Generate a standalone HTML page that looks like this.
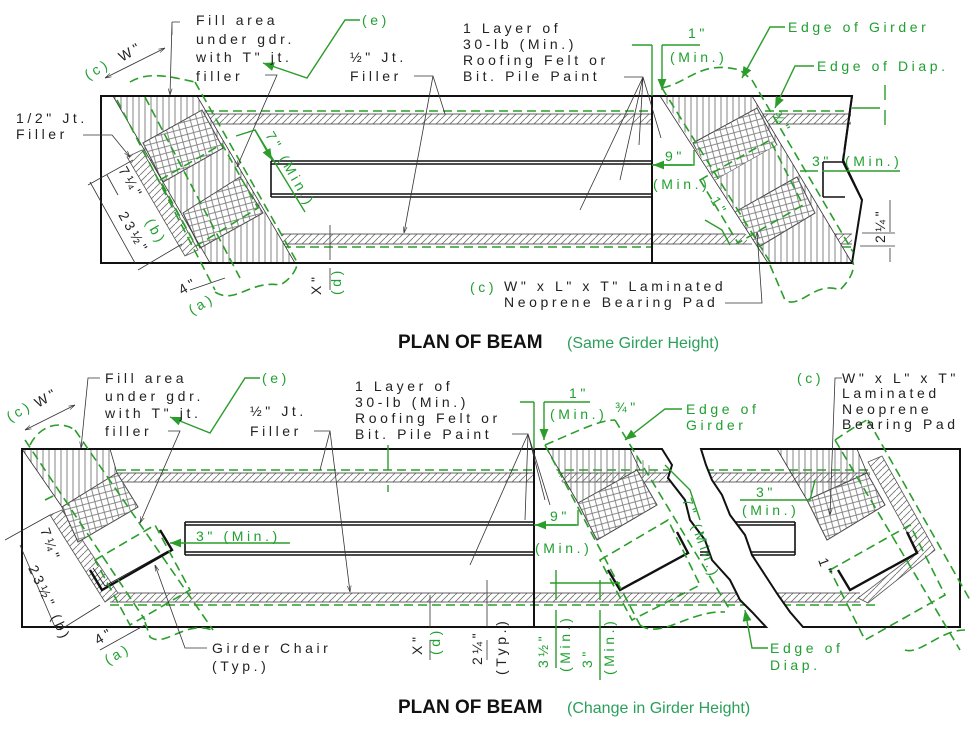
<!DOCTYPE html>
<html><head><meta charset="utf-8"><style>
html,body{margin:0;padding:0;background:#fff;}
svg{display:block}
text{font-family:"Liberation Sans",sans-serif;}
.t{font-size:14px;letter-spacing:3.6px;fill:#222}
.g{font-size:14px;letter-spacing:3.6px;fill:#20a030}
.ol{fill:none;stroke:#111;stroke-width:2}
.th{fill:none;stroke:#333;stroke-width:0.8}
.gd{fill:none;stroke:#2a9d2a;stroke-width:1.6;stroke-dasharray:9,5}
.gl{fill:none;stroke:#2a9d2a;stroke-width:1.4}
</style></head><body>
<svg width="975" height="729" viewBox="0 0 975 729" xmlns="http://www.w3.org/2000/svg">
<defs>
<pattern id="dg" patternUnits="userSpaceOnUse" width="7" height="7"><path d="M0,7 L7,0" stroke="#777" stroke-width="0.9"/></pattern>
<pattern id="vt" patternUnits="userSpaceOnUse" width="6" height="6"><path d="M1,0 V6" stroke="#777" stroke-width="0.9"/></pattern>
<pattern id="cx" patternUnits="userSpaceOnUse" width="9" height="9" patternTransform="rotate(30)"><path d="M0,0 L9,9 M9,0 L0,9" stroke="#777" stroke-width="0.8"/></pattern>
<marker id="a" viewBox="0 0 10 10" refX="10" refY="5" markerWidth="8" markerHeight="8" orient="auto-start-reverse"><path d="M0,2 L10,5 L0,8" fill="none" stroke="#333" stroke-width="1"/></marker>
<marker id="ga" viewBox="0 0 10 10" refX="10" refY="5" markerWidth="8" markerHeight="8" orient="auto-start-reverse"><path d="M0,1 L10,5 L0,9 z" fill="#2a9d2a"/></marker>
</defs>

<!-- ================= TOP DIAGRAM ================= -->
<rect x="205" y="114" width="646" height="10" fill="url(#dg)"/>
<line x1="205" y1="114" x2="851" y2="114" class="th"/><line x1="205" y1="124" x2="851" y2="124" class="th"/>
<rect x="282" y="234" width="570" height="10" fill="url(#dg)"/>
<line x1="282" y1="234" x2="852" y2="234" class="th"/><line x1="282" y1="244" x2="852" y2="244" class="th"/>
<line x1="205" y1="111" x2="851" y2="111" class="gd"/>
<line x1="282" y1="247" x2="852" y2="247" class="gd"/>
<path d="M271,161 H652 M271,164 H652 M271,194 H652 M271,197 H652 M271,161 V197" stroke="#111" stroke-width="1.6" fill="none"/>
<path d="M823,162 H845 M823,197 H845 M823,162 V197" stroke="#111" stroke-width="1.6" fill="none"/>
<polygon points="113,96 197,96 295,263 210,263" fill="#fff"/>
<polygon points="113,96 197,96 295,263 210,263" fill="url(#vt)"/>
<polygon points="127,157 142,150 198,250 185,256" fill="#fff"/>
<polygon points="127,157 142,150 198,250 185,256" fill="url(#dg)" stroke="#555" stroke-width="0.8"/>
<polygon points="202,110 143,143 163,182 223,148" fill="#fff" stroke="#444" stroke-width="1"/>
<polygon points="202,110 143,143 163,182 223,148" fill="url(#cx)"/>
<polygon points="240,177 183,213 200,248 263,213" fill="#fff" stroke="#444" stroke-width="1"/>
<polygon points="240,177 183,213 200,248 263,213" fill="url(#cx)"/>
<path d="M113,96 L210,263 M197,96 L295,263" class="th" stroke-width="1"/>
<polygon points="660,96 752,96 852,263 768,263" fill="#fff"/>
<polygon points="660,96 752,96 852,263 768,263" fill="url(#vt)"/>
<polygon points="693,143 757,108 777,145 712,182" fill="#fff" stroke="#444"/>
<polygon points="693,143 757,108 777,145 712,182" fill="url(#cx)"/>
<polygon points="712,182 777,145 795,177 735,212" fill="#fff"/>
<polygon points="712,182 777,145 795,177 735,212" fill="url(#vt)"/>
<polygon points="735,212 797,177 815,213 757,248" fill="#fff" stroke="#444"/>
<polygon points="735,212 797,177 815,213 757,248" fill="url(#cx)"/>
<polygon points="652,96 662,96 768,263 652,263" fill="#fff"/>
<rect x="652" y="234" width="95" height="10" fill="url(#dg)"/>
<path d="M652,234 H745 M652,244 H752" class="th"/>
<path d="M660,96 L768,263 M752,96 L852,263" class="th" stroke-width="1"/>
<path d="M101,96 H852 L843,160 L862,200 L852,263 H101 Z" class="ol"/>
<rect x="843" y="150" width="30" height="8" fill="#fff"/>
<path d="M852,96 L843,162 L862,200" class="ol"/>
<line x1="652" y1="96" x2="652" y2="263" stroke="#111" stroke-width="2"/>
<path d="M117,100 L215,290 M195,82 L297,262 M145,97 L240,278 M160,180 L222,144 L258,208 L196,246 Z" class="gd"/>
<path d="M130,82 C150,70 175,78 195,82 M215,292 C235,305 250,280 280,285 C290,280 296,270 297,265" class="gd"/>
<path d="M662,88 L770,262 M752,80 L853,252 M700,180 L770,140 L803,205 L738,243 Z" class="gd"/>
<path d="M662,88 C690,82 700,60 740,70 L752,80 M770,265 L785,300 C800,310 815,280 840,290 C850,280 855,270 853,262" class="gd"/>
<path d="M172,22 V35 M172,22 H180 M172,22 L170,95" class="th" marker-end="url(#a)"/>
<path d="M265,75 H277 L237,167" class="th" marker-end="url(#a)"/>
<path d="M414,76 H433 L445,114 M433,76 L404,233" class="th" marker-end="url(#a)"/>
<path d="M624,77 H643 L661,138 M643,77 L639,145 M643,77 L620,180 M643,77 L580,210" class="th"/>
<path d="M83,135 H112 L130,157" class="th" marker-end="url(#a)"/>
<path d="M725,303 H762 L757,232" class="th" marker-end="url(#a)"/>
<path d="M360,20 H345 L307,78 L263,63" class="gl" marker-end="url(#ga)"/>
<path d="M785,27 H770 L742,78" class="gl" marker-end="url(#ga)"/>
<path d="M814,66 H795 L775,108" class="gl" marker-end="url(#ga)"/>
<path d="M632,45 H652 M700,45 H662 M652,45 V96 M662,45 V90" class="gl" marker-end="url(#ga)"/>
<path d="M652,165 H694 V150" class="gl"/>
<path d="M692,165 H653" class="gl" marker-end="url(#ga)"/>
<path d="M900,171 H822 M800,171 H818" class="gl"/>
<path d="M236,136 L255,130 L305,212" class="gl"/>
<path d="M255,130 L272,160" class="gl" marker-end="url(#ga)"/>
<path d="M880,108 H852 M885,85 V100 M885,110 V125" class="gl"/>
<path d="M705,220 L722,230 L730,245" class="gl"/>
<path d="M890,200 V232 M890,248 V262 M862,233 H895 M860,246 H895" class="th"/>
<path d="M330,225 V260 M330,268 V290" class="th"/>
<path d="M88,185 L133,160 M118,195 L107,175 M90,182 L135,263 M138,270 L182,244" class="th"/>
<path d="M105,78 L165,48" class="th" marker-end="url(#a)" marker-start="url(#a)"/>
<path d="M190,290 L225,278" class="th"/>
<text class="t" x="196" y="25">Fill area</text>
<text class="t" x="196" y="44">under gdr.</text>
<text class="t" x="196" y="62">with T" jt.</text>
<text class="t" x="196" y="81">filler</text>
<text class="g" x="362" y="25">(e)</text>
<text class="t" x="350" y="62">½" Jt.</text>
<text class="t" x="350" y="81">Filler</text>
<text class="t" x="463" y="33">1 Layer of</text>
<text class="t" x="463" y="49">30-lb (Min.)</text>
<text class="t" x="463" y="65">Roofing Felt or</text>
<text class="t" x="463" y="81">Bit. Pile Paint</text>
<text class="t" x="16" y="123">1/2" Jt.</text>
<text class="t" x="16" y="139">Filler</text>
<text class="g" x="788" y="32">Edge of Girder</text>
<text class="g" x="817" y="71">Edge of Diap.</text>
<text class="g" x="688" y="38">1"</text>
<text class="g" x="670" y="62">(Min.)</text>
<text class="g" x="665" y="161">9"</text>
<text class="g" x="653" y="189">(Min.)</text>
<text class="g" x="812" y="166">3"</text>
<text class="g" x="845" y="166">(Min.)</text>
<text class="g" x="470" y="292">(c)</text>
<text class="t" x="504" y="291">W" x L" x T" Laminated</text>
<text class="t" x="504" y="307">Neoprene Bearing Pad</text>
<text class="t" x="864" y="228" transform="rotate(-90 882 225)" font-size="12">2¼"</text>
<text class="g" transform="translate(88,80) rotate(-30)">(c)</text>
<text class="t" transform="translate(122,62) rotate(-30)">W"</text>
<text class="g" transform="translate(192,315) rotate(-30)">(a)</text>
<text class="t" transform="translate(182,295) rotate(-30)">4"</text>
<text class="t" transform="translate(321,295) rotate(-90)">X"</text>
<text class="g" transform="translate(341,295) rotate(-90)">(d)</text>
<text class="g" transform="translate(265,135) rotate(60)">7" (Min.)</text>
<text class="t" transform="translate(118,170) rotate(60)">7¼"</text>
<text class="t" transform="translate(118,215) rotate(60)">23½"</text>
<text class="g" transform="translate(145,222) rotate(60)">(b)</text>
<text class="g" transform="translate(772,115) rotate(60)" font-size="11">¾"</text>
<text class="g" transform="translate(710,200) rotate(60)" font-size="12">1"</text>

<text x="398" y="348" font-size="19" font-weight="bold" fill="#111">PLAN OF BEAM</text>
<text x="567" y="348" font-size="16" fill="#2aa05a">(Same Girder Height)</text>

<!-- ================= BOTTOM DIAGRAM ================= -->
<rect x="117" y="473" width="753" height="9" fill="url(#dg)"/>
<line x1="117" y1="473" x2="870" y2="473" class="th"/><line x1="117" y1="482" x2="870" y2="482" class="th"/>
<rect x="110" y="593" width="750" height="9" fill="url(#dg)"/>
<line x1="110" y1="593" x2="860" y2="593" class="th"/><line x1="110" y1="602" x2="860" y2="602" class="th"/>
<line x1="117" y1="470" x2="880" y2="470" class="gd"/>
<line x1="110" y1="605" x2="880" y2="605" class="gd"/>
<path d="M185,522 H534 M185,525 H534 M185,552 H534 M185,555 H534 M185,522 V555" stroke="#111" stroke-width="1.6" fill="none"/>
<path d="M700,522 H795 M700,525 H795 M700,552 H795 M700,555 H795 M795,522 V555" stroke="#111" stroke-width="1.6" fill="none"/>
<path d="M662,449 L672,465 L668,478 L685,500 L690,520 L705,540 L712,560 L730,580 L740,600 L752,612 L766,627 L803,627 L790,612 L778,595 L765,575 L752,555 L745,535 L730,515 L722,495 L712,480 L706,465 L701,449 Z" fill="#fff"/>
<polygon points="22,449 110,449 117,473 62,507" fill="url(#vt)"/>
<polygon points="50,515 62,510 118,593 105,602" fill="#fff"/>
<polygon points="50,515 62,510 118,593 105,602" fill="url(#dg)" stroke="#555" stroke-width="0.8"/>
<polygon points="117,473 62,507 78,542 138,507" fill="#fff" stroke="#444"/>
<polygon points="117,473 62,507 78,542 138,507" fill="url(#cx)"/>
<path d="M22,449 L62,507 M110,449 L117,473" class="th"/>
<path d="M90,570 L102,590 L172,550 L160,530" fill="none" stroke="#111" stroke-width="2.4"/>
<path d="M93,568 L105,586 L168,551" fill="none" stroke="#111" stroke-width="0.8"/>
<polygon points="534,449 547,449 597,560 534,560" fill="#fff"/>
<polygon points="547,449 630,449 657,472 578,503" fill="url(#vt)"/>
<polygon points="578,503 637,470 657,505 597,540" fill="#fff" stroke="#444"/>
<polygon points="578,503 637,470 657,505 597,540" fill="url(#cx)"/>
<path d="M547,449 L578,503 M630,449 L640,470" class="th"/>
<path d="M608,570 L620,590 L688,553 L677,532" fill="none" stroke="#111" stroke-width="2.4"/>
<polygon points="777,449 857,449 867,473 807,500" fill="url(#vt)"/>
<polygon points="807,500 867,473 885,505 827,540" fill="#fff" stroke="#444"/>
<polygon points="807,500 867,473 885,505 827,540" fill="url(#cx)"/>
<polygon points="868,462 882,456 935,550 868,603 858,598 918,552" fill="#fff"/>
<polygon points="868,462 882,456 935,550 868,603 858,598 918,552" fill="url(#dg)" stroke="#555" stroke-width="0.8"/>
<path d="M777,449 L807,500 M857,449 L867,473" class="th"/>
<path d="M838,570 L850,590 L917,553 L907,532" fill="none" stroke="#111" stroke-width="2.4"/>
<path d="M22,449 H662 L672,465 L668,478 L685,500 L690,520 L705,540 L712,560 L730,580 L740,600 L752,612 L766,627 H22 Z" class="ol"/>
<path d="M701,449 H960 V627 H803 L790,612 L778,595 L765,575 L752,555 L745,535 L730,515 L722,495 L712,480 L706,465 Z" class="ol"/>
<line x1="534" y1="449" x2="534" y2="627" stroke="#111" stroke-width="2"/>
<path d="M25,440 L145,620 M75,430 L213,630 M45,500 L55,495 M95,560 L155,525 L190,590 L130,625 Z M30,445 C40,425 60,420 75,430 M145,622 L150,637 C165,648 185,620 212,630" class="gd"/>
<path d="M545,445 L640,625 M615,420 L730,610 M600,560 L668,520 L700,585 L632,620 Z M545,445 C580,430 600,420 615,420 M640,625 C660,640 690,610 725,612" class="gd"/>
<path d="M835,440 L960,650 M868,420 L970,600 M830,570 L910,525 L945,595 L865,640 Z M835,440 C850,430 865,420 868,420 M905,650 C920,655 940,630 965,630" class="gd"/>
<path d="M100,378 H88 L81,448" class="th" marker-end="url(#a)"/>
<path d="M168,431 H180 L140,523" class="th" marker-end="url(#a)"/>
<path d="M314,431 H330 L320,470 M330,431 L350,592" class="th" marker-end="url(#a)"/>
<path d="M512,434 H528 L525,520 M528,434 L470,565 M528,434 L550,505 M528,434 L545,500" class="th"/>
<path d="M207,648 H185 L155,565" class="th" marker-end="url(#a)"/>
<path d="M842,378 H835 L830,515" class="th" marker-end="url(#a)"/>
<path d="M487,580 V627 M487,640 V660" class="th"/>
<path d="M430,595 V627 M430,640 V660" class="th"/>
<path d="M5,540 L50,515 M20,545 L55,627 M60,630 L100,605 M100,650 L145,625" class="th"/>
<path d="M25,430 L75,405" class="th" marker-end="url(#a)" marker-start="url(#a)"/>
<path d="M260,378 H245 L210,433 L170,417" class="gl" marker-end="url(#ga)"/>
<path d="M682,409 H665 L625,440" class="gl" marker-end="url(#ga)"/>
<path d="M768,648 H752 L745,610" class="gl" marker-end="url(#ga)"/>
<path d="M290,543 H170" class="gl" marker-end="url(#ga)"/>
<path d="M520,402 H534 M590,402 H544 M534,402 V449 M544,402 V440" class="gl" marker-end="url(#ga)"/>
<path d="M534,525 H578 V510" class="gl"/>
<path d="M576,525 H535" class="gl" marker-end="url(#ga)"/>
<path d="M740,500 H810 L815,480" class="gl"/>
<path d="M556,600 V570 M556,610 V668 M600,600 V580 M600,610 V680 M550,583 H620" class="gl"/>
<path d="M388,445 V470 M388,485 V492" class="gl"/>
<path d="M665,465 L690,490 L700,520" class="gl"/>
<text class="t" x="105" y="383">Fill area</text>
<text class="t" x="105" y="401">under gdr.</text>
<text class="t" x="105" y="418">with T" jt.</text>
<text class="t" x="105" y="436">filler</text>
<text class="g" x="262" y="383">(e)</text>
<text class="t" x="250" y="416">½" Jt.</text>
<text class="t" x="250" y="436">Filler</text>
<text class="t" x="355" y="391">1 Layer of</text>
<text class="t" x="355" y="407">30-lb (Min.)</text>
<text class="t" x="355" y="423">Roofing Felt or</text>
<text class="t" x="355" y="439">Bit. Pile Paint</text>
<text class="g" x="569" y="398">1"</text>
<text class="g" x="550" y="419">(Min.)</text>
<text class="g" x="615" y="412" font-size="11">¾"</text>
<text class="g" x="686" y="414">Edge of</text>
<text class="g" x="686" y="430">Girder</text>
<text class="g" x="797" y="383">(c)</text>
<text class="t" x="842" y="383">W" x L" x T"</text>
<text class="t" x="842" y="398">Laminated</text>
<text class="t" x="842" y="414">Neoprene</text>
<text class="t" x="842" y="429">Bearing Pad</text>
<text class="g" x="196" y="541">3" (Min.)</text>
<text class="g" x="550" y="521">9"</text>
<text class="g" x="535" y="553">(Min.)</text>
<text class="g" x="756" y="497">3"</text>
<text class="g" x="742" y="515">(Min.)</text>
<text class="t" x="212" y="653">Girder Chair</text>
<text class="t" x="212" y="671">(Typ.)</text>
<text class="g" x="770" y="653">Edge of</text>
<text class="g" x="770" y="670">Diap.</text>
<text class="g" transform="translate(10,422) rotate(-30)">(c)</text>
<text class="t" transform="translate(38,408) rotate(-30)">W"</text>
<text class="g" transform="translate(108,665) rotate(-30)">(a)</text>
<text class="t" transform="translate(98,645) rotate(-30)">4"</text>
<text class="t" transform="translate(422,655) rotate(-90)">X"</text>
<text class="g" transform="translate(440,655) rotate(-90)">(d)</text>
<text class="t" transform="translate(482,665) rotate(-90)" font-size="12">2¼"</text>
<text class="t" transform="translate(506,675) rotate(-90)">(Typ.)</text>
<text class="g" transform="translate(548,668) rotate(-90)" font-size="12">3½"</text>
<text class="g" transform="translate(570,672) rotate(-90)">(Min.)</text>
<text class="g" transform="translate(592,668) rotate(-90)">3"</text>
<text class="g" transform="translate(614,675) rotate(-90)">(Min.)</text>
<text class="g" transform="translate(682,500) rotate(70)">7" (Min.)</text>
<text class="t" transform="translate(40,530) rotate(70)">7¼"</text>
<text class="t" transform="translate(28,568) rotate(65)">23½" (b)</text>
<text class="t" transform="translate(818,560) rotate(70)" font-size="12">1"</text>

<text x="398" y="713" font-size="19" font-weight="bold" fill="#111">PLAN OF BEAM</text>
<text x="567" y="713" font-size="16" fill="#2aa05a">(Change in Girder Height)</text>
</svg>
</body></html>
